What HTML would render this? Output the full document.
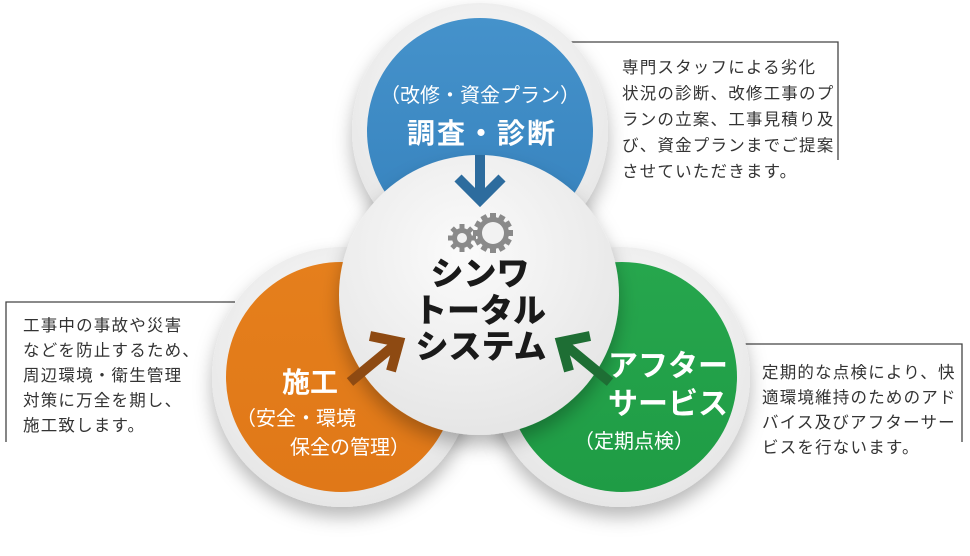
<!DOCTYPE html>
<html><head><meta charset="utf-8"><style>
html,body{margin:0;padding:0;background:#fff;}
svg{display:block;}
text{font-family:"Liberation Sans","Noto Sans CJK JP",sans-serif;}
.d{font-size:16.5px;fill:#333;letter-spacing:1.2px;}
</style></head><body>
<svg width="970" height="556" viewBox="0 0 970 556" xmlns="http://www.w3.org/2000/svg">
<defs>
<filter id="sh" x="-30%" y="-30%" width="160%" height="170%">
<feDropShadow dx="0" dy="10" stdDeviation="9" flood-color="#000" flood-opacity="0.28"/>
</filter>
<radialGradient id="ring" cx="50%" cy="40%" r="60%">
<stop offset="0" stop-color="#ffffff"/><stop offset="1" stop-color="#e6e6e6"/>
</radialGradient>
<radialGradient id="cen" cx="45%" cy="35%" r="70%">
<stop offset="0" stop-color="#fbfbfb"/><stop offset="1" stop-color="#e4e4e4"/>
</radialGradient>
<linearGradient id="bl" x1="0" y1="0" x2="0" y2="1"><stop offset="0" stop-color="#4592cb"/><stop offset="1" stop-color="#3682bd"/></linearGradient>
<linearGradient id="or" x1="0" y1="0" x2="0" y2="1"><stop offset="0" stop-color="#e57f1c"/><stop offset="1" stop-color="#e07818"/></linearGradient>
<linearGradient id="gr" x1="0" y1="0" x2="0" y2="1"><stop offset="0" stop-color="#26a64d"/><stop offset="1" stop-color="#1f9c45"/></linearGradient>
</defs>

<!-- callout lines -->
<polyline points="570,42 838,42 838,160" fill="none" stroke="#444" stroke-width="1.3"/>
<polyline points="235,302 6,302 6,442" fill="none" stroke="#444" stroke-width="1.3"/>
<polyline points="745,344 962,344 962,442" fill="none" stroke="#444" stroke-width="1.3"/>

<!-- blue -->
<circle cx="480" cy="131" r="128" fill="url(#ring)" filter="url(#sh)"/>
<circle cx="480" cy="131" r="113" fill="url(#bl)"/>
<!-- orange -->
<circle cx="342" cy="377" r="130" fill="url(#ring)" filter="url(#sh)"/>
<circle cx="341" cy="377" r="115" fill="url(#or)"/>
<!-- green -->
<circle cx="620" cy="377" r="130" fill="url(#ring)" filter="url(#sh)"/>
<circle cx="622" cy="377" r="115" fill="url(#gr)"/>
<!-- center -->
<circle cx="479" cy="295" r="140" fill="url(#cen)" filter="url(#sh)"/>

<!-- blue text -->
<text x="480" y="102" font-size="20" fill="#fff" text-anchor="middle">（改修・資金プラン）</text>
<text x="482" y="143" font-size="28" font-weight="bold" fill="#fff" text-anchor="middle" letter-spacing="2">調査・診断</text>

<!-- orange text -->
<text x="310" y="392" font-size="28" font-weight="bold" fill="#fff" text-anchor="middle">施工</text>
<text x="236" y="425" font-size="20" fill="#fff">（安全・環境</text>
<text x="290" y="454" font-size="20" fill="#fff">保全の管理）</text>

<!-- green text -->
<text x="668" y="376" font-size="30" font-weight="bold" fill="#fff" text-anchor="middle">アフター</text>
<text x="668" y="414" font-size="30" font-weight="bold" fill="#fff" text-anchor="middle">サービス</text>
<text x="574" y="448" font-size="20" fill="#fff">（定期点検）</text>

<!-- arrows -->
<g stroke="#2d6c9e" stroke-width="10" fill="none">
<line x1="480" y1="155" x2="480" y2="198"/>
<polyline points="458,178 480,200 502,178"/>
</g>
<g stroke="#8e4a12" stroke-width="10" fill="none">
<line x1="350" y1="382" x2="396" y2="344"/>
<polyline points="370,336 399,342 391,371"/>
</g>
<g stroke="#1e6e34" stroke-width="10" fill="none">
<line x1="610" y1="382" x2="564" y2="344"/>
<polyline points="590,336 561,342 569,371"/>
</g>

<!-- gears -->
<g fill="#8a8a8a">
<g transform="translate(462,238)">
<circle r="10"/>
<g>
<rect x="-2.5" y="-14" width="5" height="28"/>
<rect x="-2.5" y="-14" width="5" height="28" transform="rotate(45)"/>
<rect x="-2.5" y="-14" width="5" height="28" transform="rotate(90)"/>
<rect x="-2.5" y="-14" width="5" height="28" transform="rotate(135)"/>
</g>
<circle r="5" fill="#f2f2f2"/>
</g>
<g transform="translate(493,233)">
<circle r="16"/>
<rect x="-3" y="-20" width="6" height="40"/>
<rect x="-3" y="-20" width="6" height="40" transform="rotate(30)"/>
<rect x="-3" y="-20" width="6" height="40" transform="rotate(60)"/>
<rect x="-3" y="-20" width="6" height="40" transform="rotate(90)"/>
<rect x="-3" y="-20" width="6" height="40" transform="rotate(120)"/>
<rect x="-3" y="-20" width="6" height="40" transform="rotate(150)"/>
<circle r="11" fill="#f2f2f2"/>
</g>
</g>

<!-- center text -->
<g font-size="33" font-weight="900" fill="#1a1a1a" text-anchor="middle">
<text x="480" y="285">シンワ</text>
<text x="480" y="322">トータル</text>
<text x="481" y="358">システム</text>
</g>

<!-- descriptions -->
<g class="d">
<text class="d" x="622" y="73">専門スタッフによる劣化</text>
<text class="d" x="622" y="99">状況の診断、改修工事のプ</text>
<text class="d" x="622" y="125">ランの立案、工事見積り及</text>
<text class="d" x="622" y="151">び、資金プランまでご提案</text>
<text class="d" x="622" y="177">させていただきます。</text>

<text class="d" x="23" y="331" letter-spacing="1.8">工事中の事故や災害</text>
<text class="d" x="23" y="356" letter-spacing="1.8">などを防止するため、</text>
<text class="d" x="23" y="381" letter-spacing="1.8">周辺環境・衛生管理</text>
<text class="d" x="23" y="406" letter-spacing="1.8">対策に万全を期し、</text>
<text class="d" x="23" y="431" letter-spacing="1.8">施工致します。</text>

<text class="d" x="762" y="378" letter-spacing="0.6">定期的な点検により、快</text>
<text class="d" x="762" y="403" letter-spacing="0.6">適環境維持のためのアド</text>
<text class="d" x="762" y="428" letter-spacing="0.6">バイス及びアフターサー</text>
<text class="d" x="762" y="453" letter-spacing="0.6">ビスを行ないます。</text>
</g>
</svg>
</body></html>
